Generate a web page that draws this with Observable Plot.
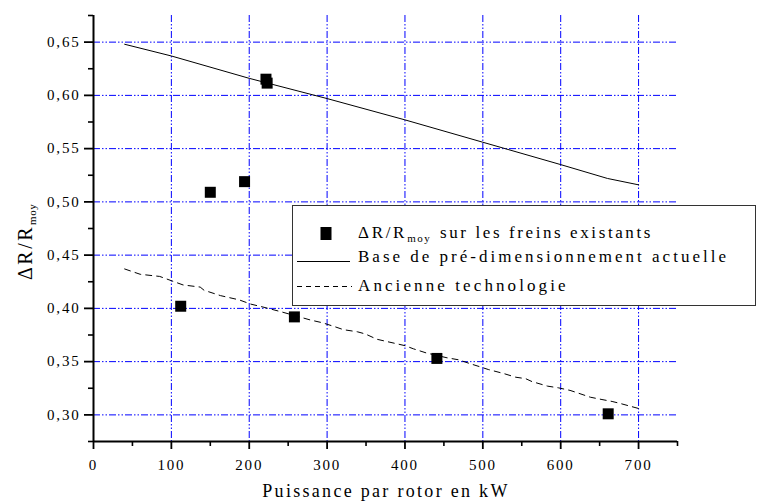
<!DOCTYPE html>
<html><head><meta charset="utf-8">
<script src="https://cdn.jsdelivr.net/npm/d3@7"></script>
<script src="https://cdn.jsdelivr.net/npm/@observablehq/plot@0.6"></script>
<style>
body{margin:0;background:#fff;}
#chart svg{display:block;font-family:"Liberation Serif","Times New Roman",serif;}
#chart svg g[aria-label$="tick label"] text{letter-spacing:1.8px;}
</style></head><body><div id="chart"></div>
<script>
// Points: ΔR/Rmoy on existing brakes
const existingPower = [112, 150, 194, 221.5, 223, 258, 441, 661];
const existingRatio = [0.402, 0.509, 0.519, 0.6152, 0.6115, 0.392, 0.353, 0.301];
// Solid line: current pre-sizing basis
const basePower = [40, 100, 200, 300, 400, 500, 600, 660, 700];
const baseRatio = [0.648, 0.637, 0.616, 0.597, 0.577, 0.556, 0.535, 0.522, 0.516];
// Dashed line: old technology
const oldPower = [40, 60, 85, 100, 115, 137, 142, 163, 187, 202, 219, 240, 279, 294, 309, 321, 339, 349, 364, 400, 411, 428, 454, 469, 484, 497, 507, 526, 542, 555, 563, 583, 597, 612, 619, 638, 653, 666, 675, 700];
const oldRatio = [0.437, 0.432, 0.430, 0.426, 0.422, 0.420, 0.417, 0.412, 0.408, 0.404, 0.401, 0.397, 0.389, 0.3865, 0.383, 0.380, 0.378, 0.376, 0.371, 0.365, 0.362, 0.358, 0.3536, 0.3517, 0.348, 0.345, 0.3426, 0.339, 0.3354, 0.334, 0.3313, 0.327, 0.3254, 0.323, 0.3213, 0.3166, 0.3144, 0.3126, 0.311, 0.306];

const xTicks = [0, 100, 200, 300, 400, 500, 600, 700];
const xMinorTicks = [50, 150, 250, 350, 450, 550, 650, 750];
const yTicks = [0.30, 0.35, 0.40, 0.45, 0.50, 0.55, 0.60, 0.65];
const yMinorTicks = [0.275, 0.325, 0.375, 0.425, 0.475, 0.525, 0.575, 0.625, 0.675];

const xTitle = "Puissance par rotor en kW";
const yTitleMain = "ΔR/R";
const yTitleSub = "moy";
const legendLine1Main = "ΔR/R";
const legendLine1Sub = "moy";
const legendLine1Rest = "sur les freins existants";
const legendLine2 = "Base de pré-dimensionnement actuelle";
const legendLine3 = "Ancienne technologie";

const existing = existingPower.map((p, i) => ({p, r: existingRatio[i]}));
const base = basePower.map((p, i) => ({p, r: baseRatio[i]}));
const old = oldPower.map((p, i) => ({p, r: oldRatio[i]}));

const fmt = d => d.toFixed(2).replace(".", ",");
const gridDash = "7,2,1.5,2,1.5,2";
const gridColor = "#0000ff";

const plot = Plot.plot({
  width: 757, height: 503,
  marginLeft: 93, marginRight: 80, marginTop: 15, marginBottom: 62,
  x: {domain: [0, 750]},
  y: {domain: [0.275, 0.675]},
  style: {fontFamily: "Liberation Serif, Times New Roman, serif", fontSize: "15px", background: "white", color: "black"},
  marks: [
    Plot.ruleX(xTicks.filter(d => d > 0), {x: d => d, stroke: gridColor, strokeWidth: 1, strokeDasharray: gridDash}),
    Plot.ruleY(yTicks, {y: d => d, x1: 0, x2: 750, stroke: gridColor, strokeWidth: 1, strokeDasharray: gridDash}),
    Plot.axisX(xMinorTicks, {tickSize: 5, tickFormat: () => "", strokeWidth: 1.6, label: null}),
    Plot.axisX(xTicks, {tickSize: 8, tickPadding: 10, tickFormat: d => String(d), strokeWidth: 1.8, fontSize: 15, label: null}),
    Plot.axisY(yMinorTicks, {tickSize: 5, tickFormat: () => "", strokeWidth: 1.6, label: null}),
    Plot.axisY(yTicks, {tickSize: 9, tickPadding: 4, tickFormat: fmt, strokeWidth: 1.8, fontSize: 15, label: null}),
    Plot.ruleX([0], {x: d => d, strokeWidth: 2, stroke: "black"}),
    Plot.ruleY([0.275], {y: d => d, x1: 0, x2: 750, strokeWidth: 2, stroke: "black"}),
    Plot.line(base, {x: "p", y: "r", stroke: "black", strokeWidth: 1}),
    Plot.line(old, {x: "p", y: "r", stroke: "black", strokeWidth: 1, strokeDasharray: "6,5"}),
    Plot.dot(existing, {x: "p", y: "r", symbol: "square", r: 6.2, fill: "black", stroke: "none"})
  ]
});
document.getElementById("chart").appendChild(plot);

const svg = d3.select(plot);
const serif = "Liberation Serif, Times New Roman, serif";

// X title
svg.append("text").attr("x", 386).attr("y", 497).attr("text-anchor", "middle")
  .attr("font-family", serif).attr("font-size", 18).style("letter-spacing", "2.3px").attr("fill", "black").text(xTitle);

// Y title
const yt = svg.append("text").attr("transform", "translate(32,280) rotate(-90)").attr("text-anchor", "start")
  .attr("font-family", serif).attr("font-size", 20).attr("fill", "black");
yt.append("tspan").style("letter-spacing", "2.5px").text(yTitleMain);
yt.append("tspan").attr("font-size", 11).attr("dy", 4).style("letter-spacing", "0.5px").text(yTitleSub);

// Legend
const lg = svg.append("g").attr("text-anchor", "start");
lg.append("rect").attr("x", 292.5).attr("y", 205.5).attr("width", 463).attr("height", 100)
  .attr("fill", "white").attr("stroke", "#333").attr("stroke-width", 1);
lg.append("rect").attr("x", 320.5).attr("y", 227).attr("width", 11).attr("height", 13).attr("fill", "black");
lg.append("line").attr("x1", 297).attr("x2", 350).attr("y1", 261.5).attr("y2", 261.5).attr("stroke", "black");
lg.append("line").attr("x1", 297).attr("x2", 352).attr("y1", 286.5).attr("y2", 286.5).attr("stroke", "black").attr("stroke-dasharray", "5,4");
const t1 = lg.append("text").attr("x", 358).attr("y", 238).attr("text-anchor", "start").attr("font-family", serif).attr("font-size", 17).attr("fill", "black");
t1.append("tspan").style("letter-spacing", "2.7px").text(legendLine1Main);
t1.append("tspan").attr("font-size", 11).attr("dy", 4).style("letter-spacing", "1.5px").text(legendLine1Sub);
t1.append("tspan").attr("x", 440).attr("dy", -4).style("letter-spacing", "2.6px").text(legendLine1Rest);
lg.append("text").attr("x", 358).attr("y", 262).attr("text-anchor", "start").attr("font-family", serif).attr("font-size", 17).attr("fill", "black")
  .style("letter-spacing", "3px").text(legendLine2);
lg.append("text").attr("x", 358).attr("y", 291).attr("text-anchor", "start").attr("font-family", serif).attr("font-size", 17).attr("fill", "black")
  .style("letter-spacing", "3.1px").text(legendLine3);
</script></body></html>
